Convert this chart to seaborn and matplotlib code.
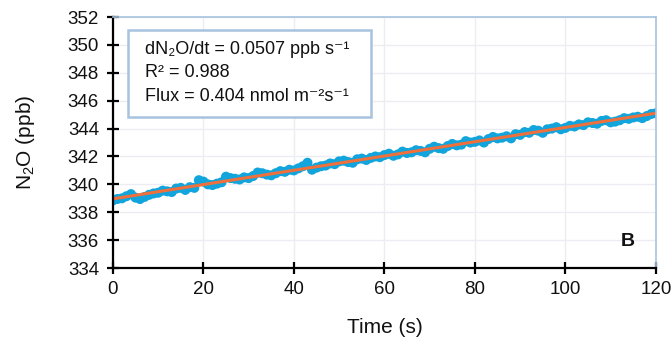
import numpy as np
import pandas as pd
import matplotlib.pyplot as plt
import seaborn as sns
from matplotlib.patches import Rectangle

time_s = list(range(0, 121))
n2o_ppb = [
    338.85, 338.95, 339.00, 339.15, 339.30, 339.05, 338.95, 339.10, 339.25, 339.35,
    339.40, 339.55, 339.50, 339.45, 339.70, 339.75, 339.60, 339.80, 339.75, 340.30,
    340.20, 340.00, 339.95, 340.05, 340.15, 340.55, 340.45, 340.40, 340.35, 340.50,
    340.45, 340.60, 340.85, 340.80, 340.70, 340.65, 340.80, 340.95, 340.90, 341.05,
    341.00, 341.15, 341.30, 341.55, 341.05, 341.20, 341.30, 341.35, 341.50, 341.45,
    341.65, 341.70, 341.60, 341.55, 341.80, 341.85, 341.75, 341.90, 342.00, 341.95,
    342.10, 342.20, 342.05, 342.15, 342.35, 342.25, 342.30, 342.45, 342.40, 342.30,
    342.55, 342.70, 342.60, 342.55, 342.75, 342.90, 342.80, 342.85, 343.10, 343.00,
    343.05, 343.15, 343.00, 343.25, 343.40, 343.30, 343.35, 343.45, 343.30, 343.60,
    343.55, 343.75, 343.70, 343.90, 343.85, 343.70, 343.95, 344.00, 344.10, 343.95,
    344.05, 344.20, 344.15, 344.30, 344.25, 344.45, 344.40, 344.35, 344.55, 344.60,
    344.45, 344.50, 344.60, 344.75, 344.70, 344.80, 344.85, 344.75, 344.90, 345.05,
    345.10,
]
x_ticks = [0, 20, 40, 60, 80, 100, 120]
y_ticks = [334, 336, 338, 340, 342, 344, 346, 348, 350, 352]
stats_lines = [
    "dN₂O/dt = 0.0507 ppb s⁻¹",
    "R² = 0.988",
    "Flux = 0.404 nmol m⁻²s⁻¹",
]

df = pd.DataFrame({"time": time_s, "n2o": n2o_ppb})

sns.set_theme(style="whitegrid")
plt.rcParams["font.family"] = ["Liberation Sans", "DejaVu Sans"]
plt.rcParams["mathtext.fontset"] = "custom"
plt.rcParams["mathtext.rm"] = "Liberation Sans"
plt.rcParams["mathtext.it"] = "Liberation Sans:italic"
plt.rcParams["mathtext.default"] = "regular"

fig = plt.figure(figsize=(6.72, 3.41), dpi=100)
ax = fig.add_axes([0.168, 0.214, 0.808, 0.736])

sns.regplot(
    data=df, x="time", y="n2o", ax=ax, ci=None, truncate=True,
    scatter_kws={"s": 52, "color": "#12A4DC", "edgecolor": "none", "alpha": 1},
    line_kws={"color": "#F0703C", "lw": 2.2},
)

ax.set_xlim(0, 120)
ax.set_ylim(334, 352)
ax.set_xticks(x_ticks)
ax.set_yticks(y_ticks)
ax.grid(True, color="#ECECF4", lw=1.0)
ax.set_facecolor("white")

for side in ["left", "bottom"]:
    ax.spines[side].set_color("black")
    ax.spines[side].set_linewidth(1.6)
for side in ["top", "right"]:
    ax.spines[side].set_color("#A7C3DF")
    ax.spines[side].set_linewidth(1.2)
    ax.spines[side].set_visible(True)

ax.tick_params(axis="both", which="major", bottom=True, left=True,
               direction="inout", length=8, width=1.6,
               color="black", labelsize=13.5, labelcolor="#111111")
ax.tick_params(axis="x", pad=5)
ax.tick_params(axis="y", pad=6)

ax.set_xlabel("Time (s)", fontsize=15, labelpad=15, color="#111111")
ax.set_ylabel(r"N$_2$O (ppb)", fontsize=15, labelpad=22, color="#111111")

# stats box
ax.add_patch(Rectangle((0.028, 0.602), 0.447, 0.346, transform=ax.transAxes,
                       facecolor="white", edgecolor="#A7C3DF", lw=1.8, zorder=5))
ax.text(0.059, 0.905, "\n".join(stats_lines), transform=ax.transAxes,
        fontsize=13, va="top", ha="left", linespacing=1.5, color="#111111",
        zorder=6)

ax.text(0.962, 0.105, "B", transform=ax.transAxes, fontsize=14,
        fontweight="bold", ha="right", va="center", color="#111111")

fig.savefig("out.png", dpi=100)
